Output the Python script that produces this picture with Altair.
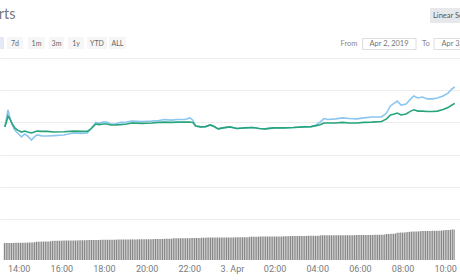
import altair as alt
import pandas as pd

# ---- line series ----
TIMES = [
    "2019-04-02 13:21", "2019-04-02 13:26", "2019-04-02 13:30", "2019-04-02 13:35",
    "2019-04-02 13:41", "2019-04-02 13:49", "2019-04-02 13:57", "2019-04-02 14:08",
    "2019-04-02 14:17", "2019-04-02 14:25", "2019-04-02 14:36", "2019-04-02 14:44",
    "2019-04-02 14:52", "2019-04-02 15:06", "2019-04-02 15:20", "2019-04-02 15:39",
    "2019-04-02 16:07", "2019-04-02 16:34", "2019-04-02 16:56", "2019-04-02 17:13",
    "2019-04-02 17:24", "2019-04-02 17:32", "2019-04-02 17:37", "2019-04-02 17:46",
    "2019-04-02 17:57", "2019-04-02 18:08", "2019-04-02 18:19", "2019-04-02 18:32",
    "2019-04-02 18:46", "2019-04-02 19:03", "2019-04-02 19:19", "2019-04-02 19:47",
    "2019-04-02 20:14", "2019-04-02 20:34", "2019-04-02 20:50", "2019-04-02 21:09",
    "2019-04-02 21:29", "2019-04-02 21:48", "2019-04-02 22:02", "2019-04-02 22:10",
    "2019-04-02 22:18", "2019-04-02 22:32", "2019-04-02 22:46", "2019-04-02 22:59",
    "2019-04-02 23:10", "2019-04-02 23:21", "2019-04-02 23:35", "2019-04-02 23:54",
    "2019-04-03 00:14", "2019-04-03 00:36", "2019-04-03 00:58", "2019-04-03 01:17",
    "2019-04-03 01:33", "2019-04-03 01:58", "2019-04-03 02:26", "2019-04-03 02:53",
    "2019-04-03 03:21", "2019-04-03 03:43", "2019-04-03 03:57", "2019-04-03 04:08",
    "2019-04-03 04:19", "2019-04-03 04:30", "2019-04-03 04:52", "2019-04-03 05:11",
    "2019-04-03 05:30", "2019-04-03 05:52", "2019-04-03 06:11", "2019-04-03 06:33",
    "2019-04-03 07:01", "2019-04-03 07:15", "2019-04-03 07:26", "2019-04-03 07:37",
    "2019-04-03 07:45", "2019-04-03 07:56", "2019-04-03 08:10", "2019-04-03 08:23",
    "2019-04-03 08:32", "2019-04-03 08:43", "2019-04-03 08:56", "2019-04-03 09:10",
    "2019-04-03 09:24", "2019-04-03 09:38", "2019-04-03 09:54", "2019-04-03 10:08",
    "2019-04-03 10:19", "2019-04-03 10:27",
]
MARKET_CAP = [
    4886, 4914, 4939, 4917, 4895, 4876, 4867, 4855, 4864, 4858, 4845, 4855,
    4861, 4858, 4858, 4859, 4861, 4867, 4866, 4867, 4880, 4892, 4900, 4897,
    4901, 4901, 4895, 4895, 4900, 4901, 4904, 4903, 4904, 4906, 4909, 4907,
    4909, 4909, 4914, 4907, 4889, 4886, 4887, 4892, 4887, 4880, 4883, 4886,
    4881, 4883, 4884, 4881, 4880, 4883, 4883, 4884, 4886, 4887, 4892, 4901,
    4912, 4909, 4911, 4914, 4912, 4911, 4914, 4917, 4917, 4929, 4951, 4960,
    4966, 4954, 4957, 4973, 4982, 4976, 4979, 4973, 4973, 4976, 4982, 4991,
    5004, 5010,
]
PRICE = [
    4886, 4903, 4920, 4911, 4898, 4883, 4876, 4870, 4873, 4870, 4867, 4870,
    4873, 4872, 4872, 4870, 4871, 4873, 4872, 4872, 4881, 4890, 4895, 4893,
    4895, 4895, 4892, 4892, 4893, 4895, 4898, 4897, 4898, 4900, 4901, 4900,
    4901, 4901, 4901, 4900, 4889, 4886, 4887, 4892, 4887, 4880, 4883, 4886,
    4881, 4883, 4884, 4881, 4880, 4883, 4883, 4884, 4886, 4887, 4890, 4893,
    4898, 4898, 4898, 4900, 4898, 4898, 4900, 4901, 4903, 4911, 4923, 4926,
    4929, 4923, 4926, 4935, 4939, 4935, 4935, 4934, 4934, 4935, 4940, 4946,
    4954, 4959,
]

# ---- 24h volume bars, one every 5 minutes from 13:20 (billions USD) ----
VOL_START = "2019-04-02 13:20"
VOLUME_24H = (
    [20.3, 20.4, 20.4, 20.5, 20.4, 20.5, 20.6, 20.6]
    + [20.6, 20.7, 20.7, 20.8, 20.8, 20.9, 21.0, 21.0, 21.1, 21.2, 21.9, 22.0]
    + [22.0, 22.1, 22.1, 22.2, 22.2, 22.3, 22.5, 23.0, 23.1, 23.2, 23.2, 23.2]
    + [23.2, 23.3, 23.3, 23.3, 23.4, 23.4, 23.4, 23.5, 23.5, 23.5, 23.6, 23.6]
    + [23.6, 23.7, 23.7, 24.0, 24.0, 24.1, 24.1, 24.1, 24.0, 24.1, 24.2, 24.2]
    + [24.2, 24.2, 24.3, 24.3, 24.3, 24.4, 24.4, 24.4, 24.5, 24.5, 24.5, 24.6]
    + [24.6, 24.6, 24.6, 24.7, 24.7, 24.7, 24.7, 24.8, 24.8, 24.8, 24.8, 24.9]
    + [24.9, 24.9, 24.9, 24.9, 25.2, 25.2, 25.3, 25.3, 25.3, 25.3, 25.4, 25.4]
    + [25.4, 25.5, 25.5, 26.0, 26.0, 26.0, 26.1, 26.1, 26.1, 26.1, 26.2, 26.2]
    + [26.2, 26.3, 26.3, 26.3, 26.4, 26.4, 26.4, 26.8, 26.8, 26.8, 26.9, 26.9]
    + [26.9, 26.9, 26.9, 27.0, 26.9, 27.0, 27.0, 27.0, 27.0, 27.1, 27.1, 27.1]
    + [27.1, 27.1, 27.2, 27.2, 27.2, 27.3, 27.3, 27.3, 27.4, 27.4, 28.0, 28.0]
    + [28.0, 28.0, 28.0, 28.1, 28.1, 28.1, 28.1, 28.1, 28.2, 28.2, 28.2, 28.2]
    + [28.2, 28.3, 28.3, 28.3, 28.3, 28.4, 28.4, 28.4, 28.4, 28.8, 28.8, 28.8]
    + [28.8, 28.8, 28.9, 28.9, 28.9, 28.9, 28.9, 29.0, 29.0, 29.0, 29.0, 29.0]
    + [29.0, 29.1, 29.6, 29.6, 29.6, 29.6, 29.6, 29.6, 29.7, 29.7, 29.7, 29.7]
    + [29.7, 29.7, 29.7, 29.8, 29.8, 29.8, 29.8, 29.8, 29.8, 29.8, 29.9, 29.9]
    + [30.0, 30.0, 30.0, 30.0, 30.1, 30.1, 30.1, 30.1, 30.2, 30.2, 30.2, 30.2]
    + [30.3, 30.4, 30.6, 31.2, 31.2, 31.3, 31.4, 31.6, 31.8, 32.8, 32.8, 32.9]
    + [32.9, 33.0, 33.2, 33.5, 34.0, 34.0, 34.1, 34.1, 34.2, 34.3, 34.4, 34.8]
    + [34.8, 34.8, 34.9, 34.9, 34.9, 35.0, 35.0, 35.0, 35.2, 35.2, 35.3, 35.5]
    + [36.0, 36.0, 36.1, 36.2, 36.5, 36.6]
)

X_TICKS = [14, 16, 18, 20, 22, 24, 26, 28, 30, 32, 34]
PRICE_GRID = [4600, 4700, 4800, 4900, 5000, 5100]
RANGE_BUTTONS = ["7d", "1m", "3m", "1y", "YTD", "ALL"]
FROM_DATE = "Apr 2, 2019"
TO_DATE = "Apr 3, 2019"

ORIGIN = pd.Timestamp("2019-04-02 00:00")


def hours(ts):
    return (pd.Timestamp(ts) - ORIGIN).total_seconds() / 3600.0


lines_df = pd.DataFrame(
    {
        "h": [hours(t) for t in TIMES] * 2,
        "value": MARKET_CAP + PRICE,
        "series": ["Market Cap"] * len(TIMES) + ["Price"] * len(TIMES),
    }
)
vol_times = pd.date_range(VOL_START, periods=len(VOLUME_24H), freq="5min")
vol_df = pd.DataFrame({"h": [hours(t) for t in vol_times], "vol": VOLUME_24H})

FONT = "Lato"
x_scale = alt.Scale(domain=[13.36, 34.46], nice=False, zero=False)
x_axis = alt.Axis(
    values=X_TICKS,
    labelExpr="datum.value == 24 ? '3. Apr' : (datum.value % 24 < 10 ? '0' : '') + (datum.value % 24) + ':00'",
    grid=False,
    domain=False,
    ticks=False,
    labelPadding=4,
    labelFontSize=9,
    labelColor="#7a7a7a",
    labelFont="Roboto",
    title=None,
    labelFlush=False,
)

bars = (
    alt.Chart(vol_df)
    .mark_bar(size=1.25, color="#878787")
    .encode(
        x=alt.X("h:Q", scale=x_scale, axis=x_axis),
        y=alt.Y("vol:Q", scale=alt.Scale(domain=[0, 312]), axis=None),
    )
)

lines = (
    alt.Chart(lines_df)
    .mark_line(strokeWidth=1.6)
    .encode(
        x=alt.X("h:Q", scale=x_scale, axis=x_axis),
        y=alt.Y(
            "value:Q",
            scale=alt.Scale(domain=[4472.7, 5280.1], nice=False, zero=False),
            axis=alt.Axis(
                values=PRICE_GRID,
                grid=True,
                gridColor="#ececec",
                labels=False,
                ticks=False,
                domain=False,
                title=None,
                orient="right",
            ),
        ),
        color=alt.Color(
            "series:N",
            scale=alt.Scale(domain=["Market Cap", "Price"], range=["#8cc6f0", "#27a47c"]),
            legend=None,
        ),
        order=alt.Order("h:Q"),
    )
)

one = alt.Data(values=[{}])


def text(label, x, y, size=7.5, color="#777777", align="center", font=FONT):
    return alt.Chart(one).mark_text(
        text=label, fontSize=size, color=color, align=align, baseline="middle", font=font
    ).encode(x=alt.value(x), y=alt.value(y))


def box(x1, x2, y1, y2, fill, stroke=None):
    kw = dict(fill=fill)
    if stroke:
        kw.update(stroke=stroke, strokeWidth=0.8)
    return alt.Chart(one).mark_rect(**kw).encode(
        x=alt.value(x1), x2=alt.value(x2), y=alt.value(y1), y2=alt.value(y2)
    )


ui = [text("Charts", 15.5, 15, size=14.5, color="#777777", align="right")]
ui.append(box(-20, 4, 37, 49, "#e4eaf5"))
btn_spans = [(7, 23), (28, 45), (49, 64), (68, 84), (87, 107), (109, 126)]
for lab, (a, b) in zip(RANGE_BUTTONS, btn_spans):
    ui.append(box(a, b, 37, 49, "#f6f6f6"))
    ui.append(text(lab, (a + b) / 2, 43.5, size=7, color="#666666"))
ui.append(text("From", 349, 44, size=7.5, color="#888888"))
ui.append(box(362.5, 416, 38.5, 49.5, "#ffffff", "#d6d6d6"))
ui.append(text(FROM_DATE, 389, 44, size=7.5, color="#777777"))
ui.append(text("To", 426, 44, size=7.5, color="#888888"))
ui.append(box(434, 488, 38.5, 49.5, "#ffffff", "#d6d6d6"))
ui.append(text(TO_DATE, 461, 44, size=7.5, color="#777777"))
ui.append(box(430, 492, 8, 23, "#e6e8ec"))
ui.append(text("Linear Scale", 433, 15.5, size=7.5, color="#555555", align="left"))

chart = (
    alt.layer(bars, lines, *ui)
    .resolve_scale(y="independent")
    .properties(
        width=460,
        height=260,
        autosize=alt.AutoSizeParams(type="none"),
        padding={"left": 0, "top": 0, "right": 0, "bottom": 20},
        background="#ffffff",
    )
    .configure_view(stroke=None)
)

chart.save("out.html", embed_options={"renderer": "svg", "actions": False})
